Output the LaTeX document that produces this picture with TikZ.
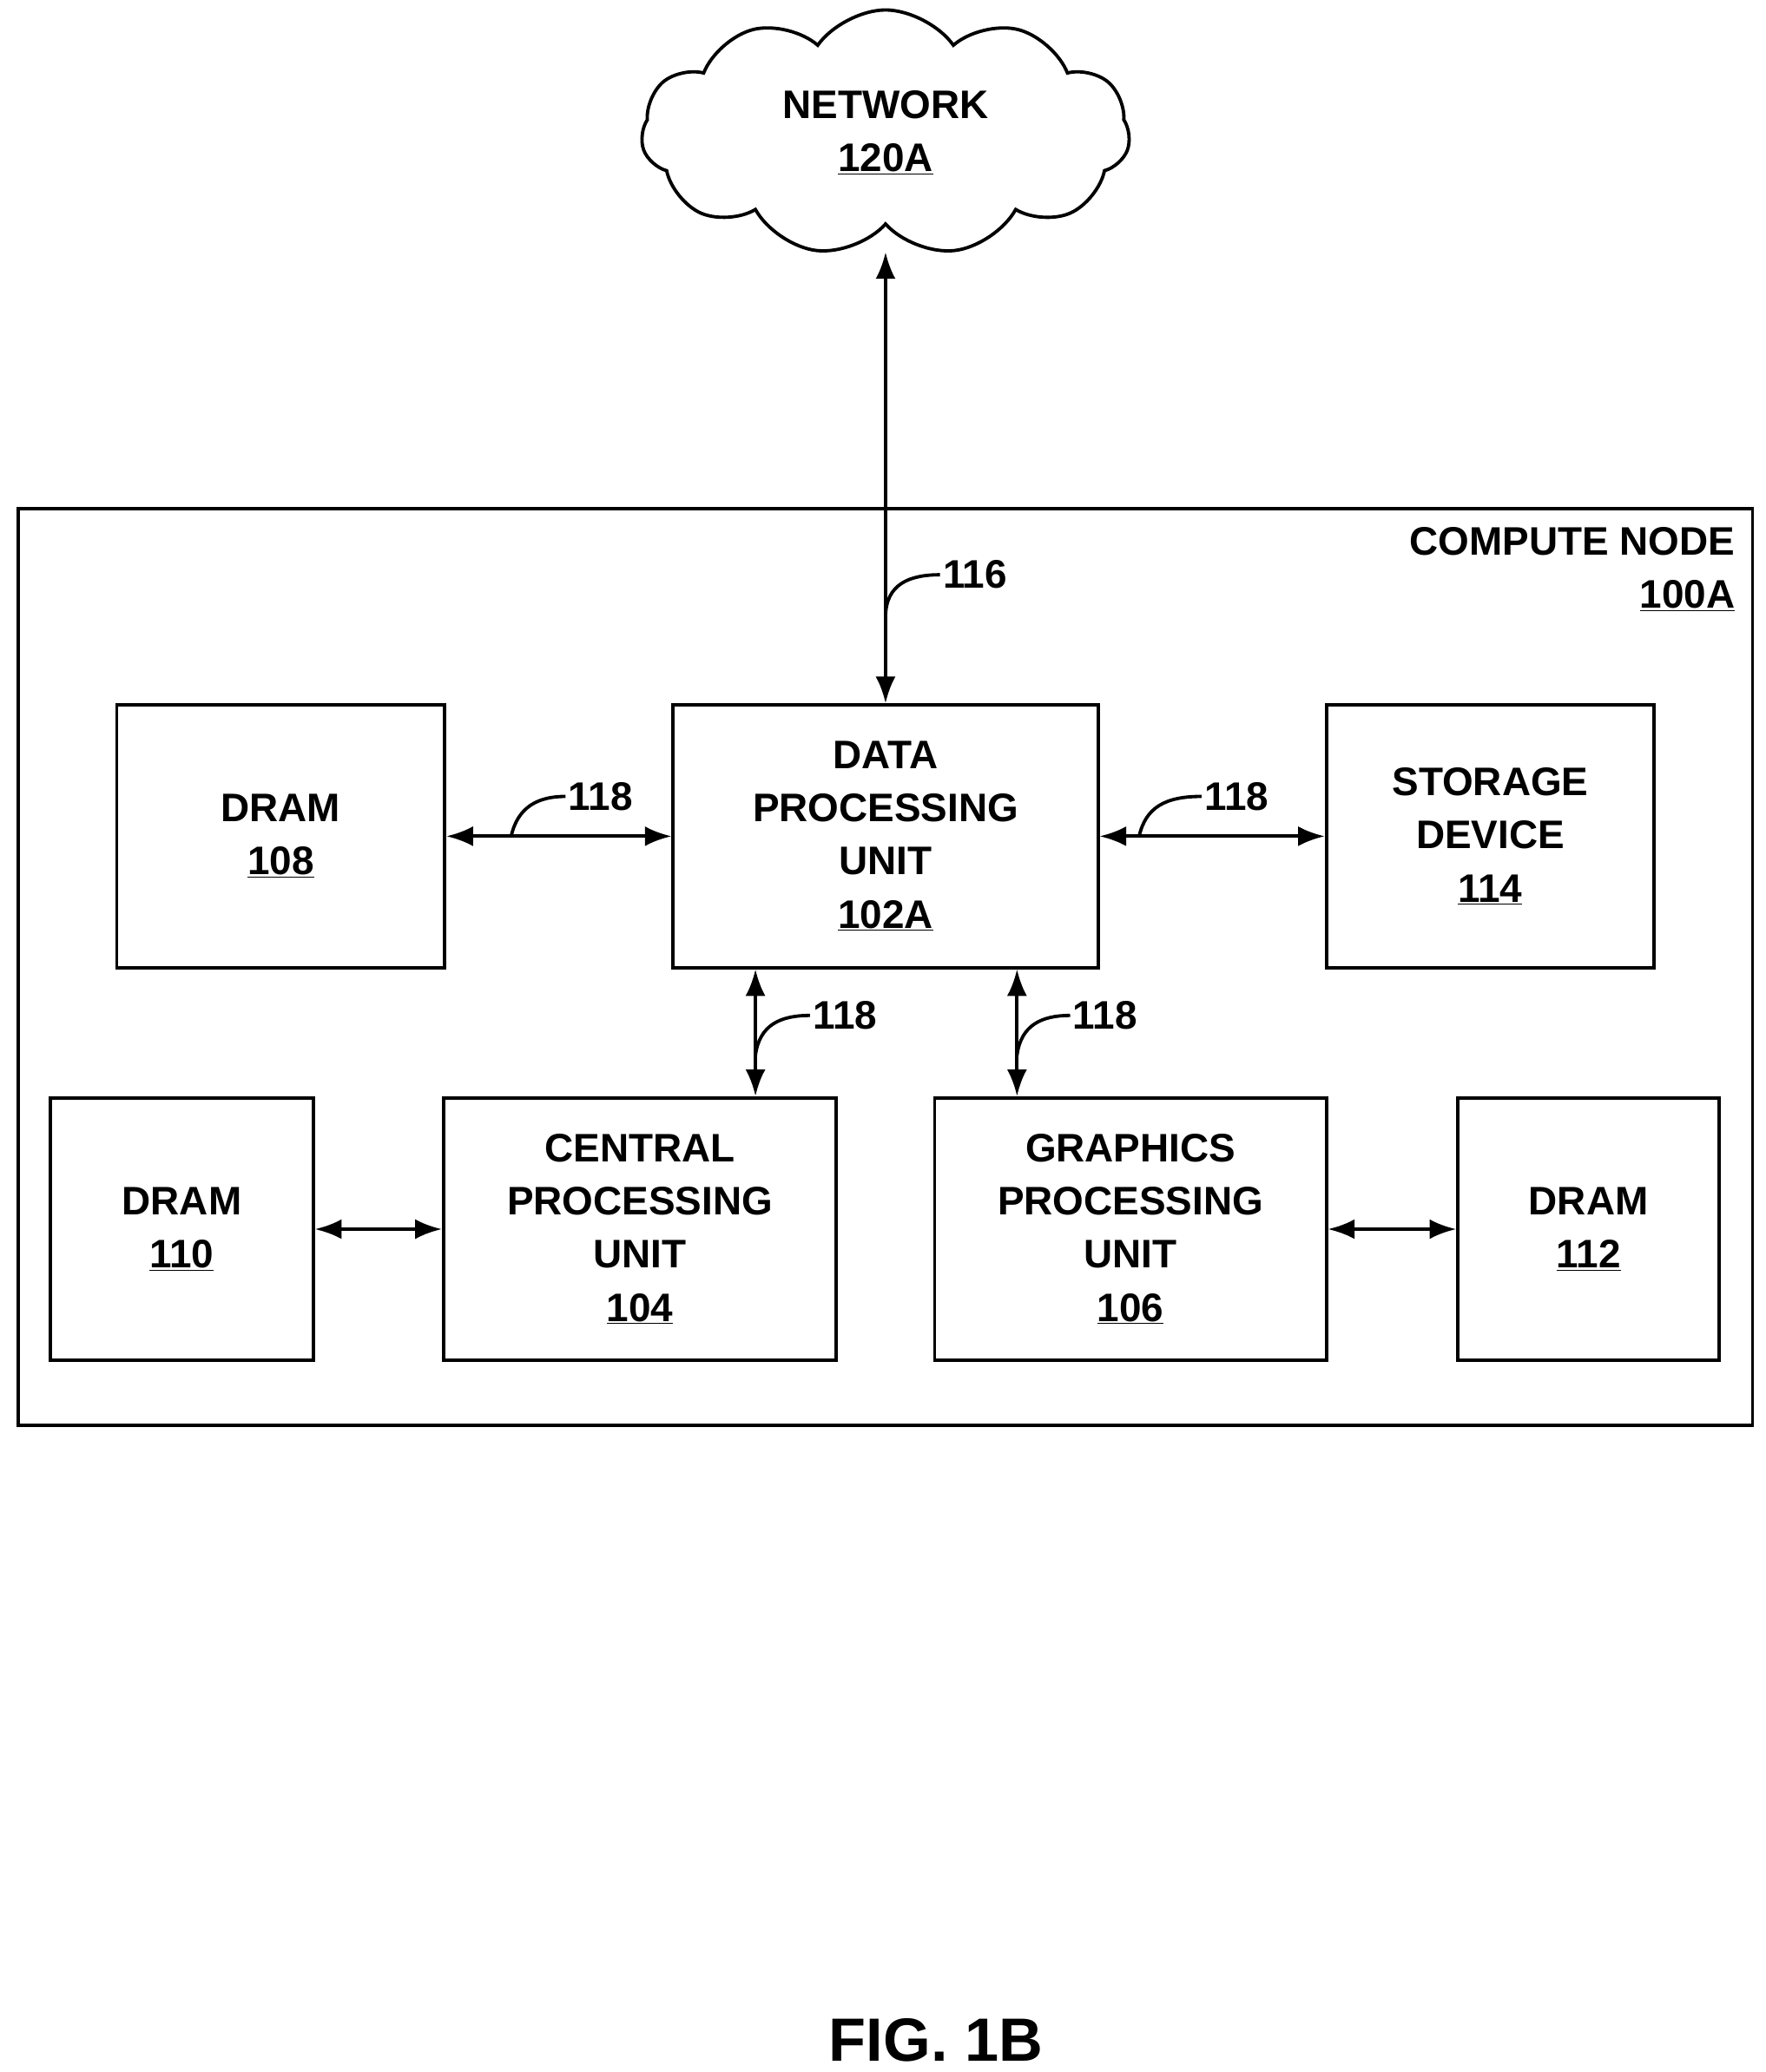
\documentclass[tikz,border=0pt]{standalone}
\usepackage{fontspec}
\setmainfont{Liberation Sans}
\usetikzlibrary{arrows.meta, shapes.symbols, calc}

\tikzset{
  blk/.style={draw, line width=2.5pt, align=center, inner sep=0pt,
    font=\fontsize{30}{40}\selectfont\bfseries},
  lnk/.style={line width=2.5pt, {Latex[length=20pt,width=15pt]}-{Latex[length=20pt,width=15pt]}},
  lead/.style={line width=2.5pt},
  num/.style={font=\fontsize{30}{36}\selectfont\bfseries, anchor=west, inner sep=2pt}
}

\begin{document}
\begin{tikzpicture}[x=1pt,y=-1pt]
  \useasboundingbox (0,0) rectangle (1330,1561);

  % cloud and outer box
  \node[cloud, cloud puffs=11, cloud puff arc=110, aspect=2, draw, line width=2.5pt,
    minimum width=368pt, minimum height=185pt, align=center,
    font=\fontsize{30}{40}\selectfont\bfseries] (net) at (667,100)
    {NETWORK\\\underline{120A}};
  \draw[line width=2.5pt] (14,383) rectangle (1320,1074);
  \node[align=right, anchor=north east, inner sep=0pt,
    font=\fontsize{30}{40}\selectfont\bfseries] (cn) at (1307,397)
    {COMPUTE NODE\\\underline{100A}};

  % blocks
  \node[blk, minimum width=320pt, minimum height=198pt] (dpu) at (667,630)
    {DATA\\PROCESSING\\UNIT\\\underline{102A}};
  \node[blk, minimum width=247pt, minimum height=198pt] (d108) at (211.5,630)
    {DRAM\\\underline{108}};
  \node[blk, minimum width=247pt, minimum height=198pt] (sto) at (1122.5,630)
    {STORAGE\\DEVICE\\\underline{114}};
  \node[blk, minimum width=296pt, minimum height=198pt] (cpu) at (482,926)
    {CENTRAL\\PROCESSING\\UNIT\\\underline{104}};
  \node[blk, minimum width=198pt, minimum height=198pt] (d110) at (137,926)
    {DRAM\\\underline{110}};
  \node[blk, minimum width=295pt, minimum height=198pt] (gpu) at (851.5,926)
    {GRAPHICS\\PROCESSING\\UNIT\\\underline{106}};
  \node[blk, minimum width=197pt, minimum height=198pt] (d112) at (1196.5,926)
    {DRAM\\\underline{112}};

  % connectors
  \draw[lnk] (net.south |- 0,190) -- (dpu.north);
  \draw[lnk] (d108.east) -- (dpu.west);
  \draw[lnk] (dpu.east) -- (sto.west);
  \draw[lnk] (cpu.north -| 569,0) -- (dpu.south -| 569,0);
  \draw[lnk] (gpu.north -| 766,0) -- (dpu.south -| 766,0);
  \draw[lnk] (d110.east) -- (cpu.west);
  \draw[lnk] (gpu.east) -- (d112.west);

  % reference labels
  \node[num] (l116) at (708,433) {116};
  \draw[lead] (667,465) .. controls (667,440) and (685,433) .. (l116.west);
  \node[num] (l118a) at (426,600) {118};
  \draw[lead] (385,630) .. controls (390,608) and (405,600) .. (l118a.west);
  \node[num] (l118b) at (905,600) {118};
  \draw[lead] (858,630) .. controls (863,608) and (878,600) .. (l118b.west);
  \node[num] (l118c) at (610,765) {118};
  \draw[lead] (569,795) .. controls (572,772) and (588,765) .. (l118c.west);
  \node[num] (l118d) at (806,765) {118};
  \draw[lead] (766,795) .. controls (769,772) and (785,765) .. (l118d.west);

  \node[font=\fontsize{46}{50}\selectfont\bfseries] (fig) at (705,1537) {FIG. 1B};
\end{tikzpicture}
\end{document}
